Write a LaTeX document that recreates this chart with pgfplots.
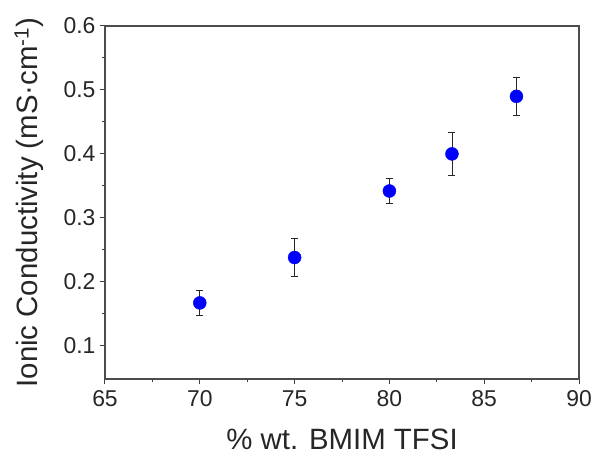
\documentclass[border=0pt]{standalone}
\usepackage{fontspec}
\setmainfont{Liberation Sans}
\usepackage{pgfplots}
\pgfplotsset{compat=1.18}
\begin{document}
\begin{tikzpicture}
\begin{axis}[
  at={(0,0)}, anchor=south west,
  scale only axis, width=474bp, height=353bp,
  xmin=65, xmax=90, ymin=0.048, ymax=0.6,
  xtick={65,70,...,90}, ytick={0.1,0.2,...,0.6},
  minor x tick num=1, minor y tick num=1,
  tick align=outside, tick pos=left,
  major tick length=5bp, minor tick length=3bp,
  every tick/.style={black!75, line width=1bp},
  axis line style={black!70, line width=1.4bp},
  /pgf/number format/assume math mode=true,
  yticklabel={\pgfmathprintnumber[fixed,fixed zerofill,precision=1]{\tick}},
  xticklabel={\pgfmathprintnumber[fixed,precision=0]{\tick}},
  tick label style={font=\fontsize{23}{26}\selectfont, text=black!85},
  xlabel={\% wt. BMIM TFSI},
  ylabel={Ionic Conductivity (mS·cm\textsuperscript{-1})},
  label style={font=\fontsize{29.5}{33}\selectfont, text=black!85},
  xlabel style={at={(axis description cs:0.5,-0.172)}, anchor=center},
  ylabel style={at={(axis description cs:-0.160,0.5)}, anchor=center},
  yticklabel style={xshift=-1bp},
  xticklabel style={yshift=-3bp},
]
\addplot[only marks, mark=*, mark size=6.5bp,
  mark options={fill={rgb,255:red,0;green,0;blue,255}, draw={rgb,255:red,0;green,0;blue,235}},
  error bars/.cd, y dir=both, y explicit,
  error bar style={black!85, line width=0.9bp},
  error mark options={rotate=90, mark size=3.5bp, black!85, line width=0.9bp}]
coordinates {
  (70,0.167) +- (0,0.020)
  (75,0.238) +- (0,0.030)
  (80,0.342) +- (0,0.020)
  (83.3,0.400) +- (0,0.033)
  (86.7,0.490) +- (0,0.030)
};
\end{axis}
\pgfresetboundingbox
\path[use as bounding box] (-105bp,-77bp) rectangle (488bp,379bp);
\end{tikzpicture}
\end{document}
